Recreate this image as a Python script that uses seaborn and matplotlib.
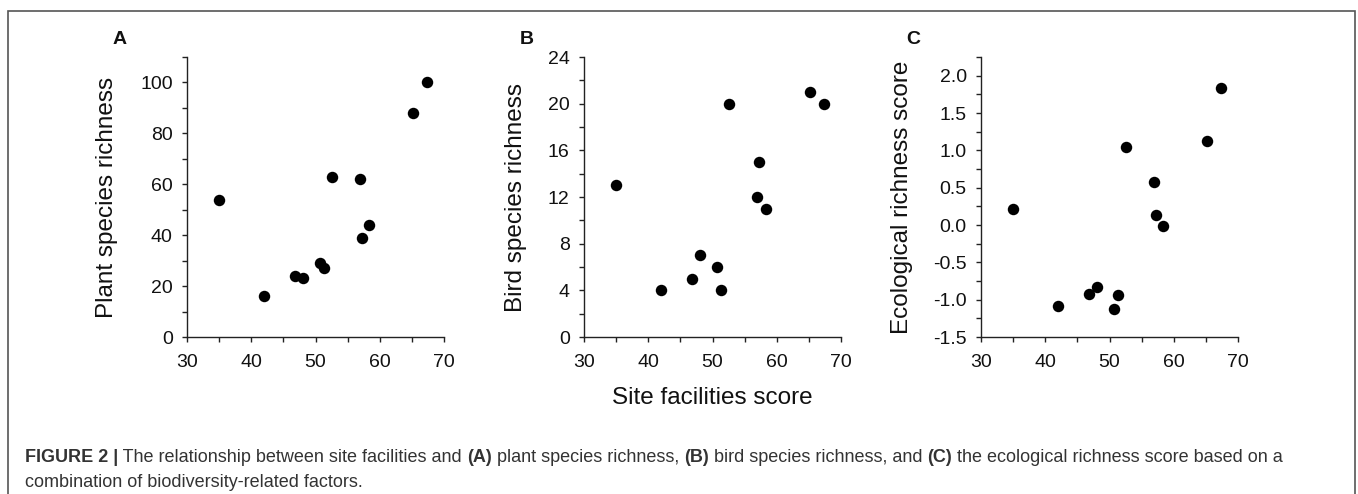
import matplotlib
matplotlib.use("Agg")
import matplotlib.pyplot as plt
from matplotlib.patches import Rectangle
from matplotlib.ticker import MultipleLocator
import seaborn as sns
import pandas as pd

# ---- data ----
facilities = [35.0, 42.0, 46.8, 48.1, 50.7, 51.4, 52.6, 57.0, 57.3, 58.3, 65.2, 67.3]
plant_richness = [54, 16, 24, 23, 29, 27, 63, 62, 39, 44, 88, 100]
bird_richness = [13, 4, 5, 7, 6, 4, 20, 12, 15, 11, 21, 20]
eco_score = [0.22, -1.09, -0.93, -0.83, -1.12, -0.94, 1.04, 0.58, 0.13, -0.02, 1.12, 1.84]

panel_letters = ["A", "B", "C"]
y_labels = ["Plant species richness", "Bird species richness", "Ecological richness score"]
x_label = "Site facilities score"
x_ticks = [30, 40, 50, 60, 70]

df = pd.DataFrame({"x": facilities, "plant": plant_richness,
                   "bird": bird_richness, "eco": eco_score})

sns.set_style("ticks")
plt.rcParams["font.family"] = ["Liberation Sans", "DejaVu Sans"]

W, H = 1358, 494
fig = plt.figure(figsize=(W / 100, H / 100), dpi=100)

def fx(px):
    return px / W

def fy(py):
    return 1 - py / H

panels = [
    dict(col="plant", left=187, ylim=(0, 110), minor=10, ticks=[0, 20, 40, 60, 80, 100],
         fmt="{:.0f}", lab_x=-0.27, letter_x=120),
    dict(col="bird", left=584, ylim=(0, 24), minor=2, ticks=[0, 4, 8, 12, 16, 20, 24],
         fmt="{:.0f}", lab_x=-0.222, letter_x=527),
    dict(col="eco", left=981, ylim=(-1.5, 2.25), minor=0.25,
         ticks=[-1.5, -1.0, -0.5, 0.0, 0.5, 1.0, 1.5, 2.0], fmt="{:.1f}", lab_x=-0.265, letter_x=913),
]

top, bottom = 57, 337
axw = 257
for i, p in enumerate(panels):
    ax = fig.add_axes([fx(p["left"]), fy(bottom), fx(axw), (bottom - top) / H])
    sns.scatterplot(data=df, x="x", y=p["col"], ax=ax, color="black", s=68,
                    edgecolor="black", linewidth=0, legend=False)
    ax.set_xlim(30, 70)
    ax.set_ylim(*p["ylim"])
    ax.set_xticks(x_ticks)
    ax.xaxis.set_minor_locator(MultipleLocator(5))
    ax.set_yticks(p["ticks"])
    ax.set_yticklabels([p["fmt"].format(t) for t in p["ticks"]])
    ax.yaxis.set_minor_locator(MultipleLocator(p["minor"]))
    for s in ["top", "right"]:
        ax.spines[s].set_visible(False)
    for s in ["left", "bottom"]:
        ax.spines[s].set_linewidth(1.0)
        ax.spines[s].set_color("#222222")
    ax.tick_params(which="both", direction="out", length=3.8, width=1.0, color="#222222")
    ax.tick_params(axis="x", which="major", labelsize=14, pad=8.5, labelcolor="#111111")
    ax.tick_params(axis="y", which="major", labelsize=14, pad=6.5, labelcolor="#111111")
    ax.set_xlabel("")
    ax.set_ylabel(y_labels[i], fontsize=17.5, color="#111111")
    ax.yaxis.set_label_coords(p["lab_x"], 0.5)
    fig.text(fx(p["letter_x"]), fy(39), panel_letters[i], fontsize=14, fontweight="bold",
             ha="center", va="center", color="#111111")

fig.text(fx(712), fy(398), x_label, fontsize=17.5, ha="center", va="center", color="#111111")

# frame around figure
fig.patches.append(Rectangle((fx(8), fy(H + 20)), fx(1355 - 8), (H + 20 - 11) / H,
                             transform=fig.transFigure, fill=False, edgecolor="#555555",
                             linewidth=1.2, clip_on=False))

# caption with mixed bold
cap1 = [("FIGURE 2 |", True), (" The relationship between site facilities and ", False),
        ("(A)", True), (" plant species richness, ", False), ("(B)", True),
        (" bird species richness, and ", False), ("(C)", True),
        (" the ecological richness score based on a", False)]
cap2 = [("combination of biodiversity-related factors.", False)]

fig.canvas.draw()
renderer = fig.canvas.get_renderer()

def draw_line(parts, x0, y0):
    x = x0
    for txt, bold in parts:
        t = fig.text(x / W, fy(y0), txt, fontsize=13, fontweight="bold" if bold else "normal",
                     ha="left", va="center", color="#333333")
        bb = t.get_window_extent(renderer=renderer)
        x += bb.width

draw_line(cap1, 25, 457)
draw_line(cap2, 25, 482)

fig.savefig("out.png", dpi=100)
